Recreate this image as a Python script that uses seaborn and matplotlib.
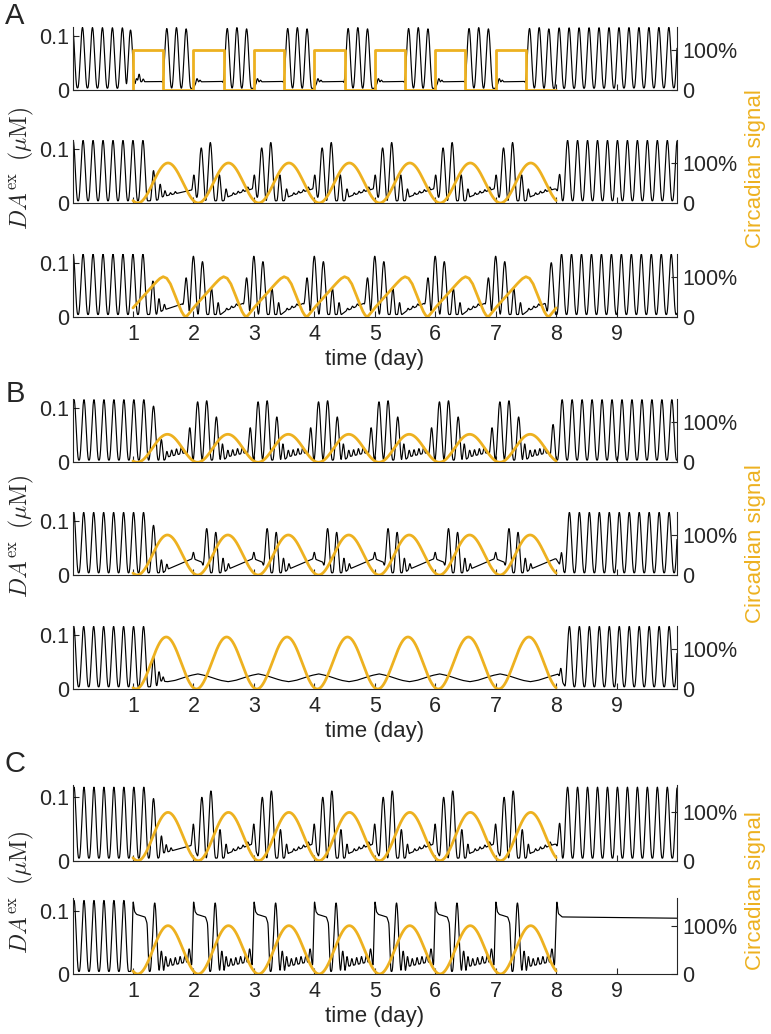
import numpy as np
import matplotlib
matplotlib.use("Agg")
import matplotlib.pyplot as plt
import seaborn as sns

# ==========================
# Data
# ==========================
# panel order: A1 A2 A3 B1 B2 B3 C1 C2
free_period = 0.165          # free-running spike period (day)
free_height = 0.112          # free-running spike height (uM)
pre_start = [0.0, 0.01, 0.01, 0.025, 0.02, 0.02, 0.025, 0.025]
pre_count = [6, 8, 8, 8, 8, 8, 8, 6]
post_start = [8.05, 8.19, 8.09, 8.10, 8.22, 8.22, 8.19, np.nan]
entrained_from = [1, 2, 2, 2, 2, 2, 2, 1]

# daily burst peaks (offset within day, height) and daily baseline knots
a1_pk_off = [0.06, 0.11, 0.56, 0.72, 0.88]
a1_pk_h = [0.006, 0.003, 0.11, 0.112, 0.11]
a1_bs_off = [0.0, 0.05, 0.48, 0.51, 0.99]
a1_bs_v = [0.003, 0.015, 0.016, 0.004, 0.003]
a1_ex_t = [0.96, 1.1, 1.17]
a1_ex_h = [0.108, 0.012, 0.005]
a1_xb_t = []
a1_xb_v = []

a2_pk_off = [0.01, 0.13, 0.28, 0.43, 0.54, 0.66, 0.74, 0.82, 0.9]
a2_pk_h = [0.03, 0.098, 0.108, 0.048, 0.018, 0.004, 0.004, 0.004, 0.006]
a2_bs_off = [0.0, 0.08, 0.5, 0.58, 0.97]
a2_bs_v = [0.024, 0.004, 0.004, 0.012, 0.026]
a2_ex_t = [1.34, 1.45, 1.53, 1.62, 1.7, 8.06]
a2_ex_h = [0.056, 0.026, 0.01, 0.004, 0.004, 0.04]
a2_xb_t = [1.38, 1.5, 1.97, 8.0, 8.1]
a2_xb_v = [0.004, 0.012, 0.024, 0.026, 0.004]

a3_pk_off = [-0.12, 0.0, 0.15, 0.3, 0.41, 0.55, 0.63, 0.71]
a3_pk_h = [0.068, 0.108, 0.098, 0.048, 0.022, 0.004, 0.004, 0.004]
a3_bs_off = [0.0, 0.45, 0.52, 0.82, 0.86]
a3_bs_v = [0.004, 0.004, 0.01, 0.025, 0.004]
a3_ex_t = [1.33, 1.43, 1.52, 7.92]
a3_ex_h = [0.062, 0.026, 0.01, 0.096]
a3_xb_t = [1.38, 1.5, 1.82, 1.86]
a3_xb_v = [0.004, 0.012, 0.024, 0.004]

b1_pk_off = [-0.06, 0.07, 0.22, 0.38, 0.48, 0.57, 0.65, 0.73, 0.81]
b1_pk_h = [0.06, 0.108, 0.11, 0.08, 0.03, 0.012, 0.011, 0.011, 0.012]
b1_bs_off = [0.0, 0.5, 0.56, 0.88, 0.91]
b1_bs_v = [0.004, 0.004, 0.01, 0.018, 0.004]
b1_ex_t = [1.34, 1.47, 1.56, 1.64, 1.72, 1.8, 7.95]
b1_ex_h = [0.1, 0.038, 0.012, 0.011, 0.011, 0.012, 0.066]
b1_xb_t = [1.52, 1.58, 1.88, 1.91]
b1_xb_v = [0.004, 0.01, 0.018, 0.004]

b2_pk_off = [0.0, 0.22, 0.37, 0.49, 0.58]
b2_pk_h = [0.012, 0.082, 0.075, 0.027, 0.01]
b2_bs_off = [0.0, 0.14, 0.19, 0.5, 0.56, 0.98]
b2_bs_v = [0.03, 0.024, 0.004, 0.004, 0.01, 0.03]
b2_ex_t = [1.34, 1.47, 1.56, 8.09]
b2_ex_h = [0.088, 0.024, 0.01, 0.028]
b2_xb_t = [1.5, 1.56, 1.98, 8.0, 8.14]
b2_xb_v = [0.004, 0.01, 0.03, 0.03, 0.004]

b3_pk_off = []
b3_pk_h = []
b3_bs_off = [0.07, 0.2, 0.32, 0.45, 0.57, 0.7, 0.82, 0.95]
b3_bs_v = [0.028, 0.025, 0.0205, 0.016, 0.0135, 0.016, 0.0205, 0.025]
b3_ex_t = [1.34, 1.43, 1.5, 8.08]
b3_ex_h = [0.056, 0.02, 0.008, 0.02]
b3_xb_t = [1.38, 1.45, 1.57, 1.7, 1.82, 1.95, 8.03, 8.15]
b3_xb_v = [0.004, 0.015, 0.0135, 0.016, 0.0205, 0.025, 0.028, 0.004]

c1_pk_off = [0.0, 0.14, 0.29, 0.44, 0.54, 0.66, 0.74, 0.82, 0.9]
c1_pk_h = [0.034, 0.096, 0.106, 0.045, 0.018, 0.004, 0.004, 0.004, 0.006]
c1_bs_off = [0.0, 0.08, 0.5, 0.58, 0.97]
c1_bs_v = [0.024, 0.004, 0.004, 0.012, 0.026]
c1_ex_t = [1.34, 1.47, 1.55, 1.63, 8.06]
c1_ex_h = [0.094, 0.03, 0.012, 0.005, 0.046]
c1_xb_t = [1.42, 1.5, 1.97, 8.0, 8.1]
c1_xb_v = [0.004, 0.012, 0.024, 0.026, 0.004]

c2_pk_off = [0.0, 0.36, 0.47, 0.54, 0.62, 0.7, 0.78, 0.86, 0.93]
c2_pk_h = [0.012, 0.108, 0.032, 0.018, 0.011, 0.011, 0.011, 0.011, 0.02]
c2_bs_off = [0.0, 0.03, 0.06, 0.2, 0.235, 0.265, 0.5, 0.56, 0.95, 0.975]
c2_bs_v = [0.104, 0.098, 0.094, 0.09, 0.08, 0.004, 0.004, 0.012, 0.02, 0.012]
c2_ex_t = [8.01]
c2_ex_h = [0.012]
c2_xb_t = [0.97, 8.01, 8.04, 8.1, 10.0]
c2_xb_v = [0.004, 0.104, 0.095, 0.09, 0.088]

# circadian signal
circ_shape = ["square", "sine", "saw", "sine", "sine", "sine", "sine", "sine"]
circ_amp = [1.0, 1.0, 1.0, 0.7, 1.0, 1.3, 1.0, 1.0]
circ_trough = [0.08, 0.08, 0.87, 0.07, 0.07, 0.05, 0.08, 0.08]
sq_on = [1, 2, 3, 4, 5, 6, 7]
sq_off = [1.5, 2.5, 3.5, 4.5, 5.5, 6.5, 7.5]
saw_phase = [0.0, 0.1, 0.2, 0.3, 0.38, 0.44, 0.5, 0.56, 0.62, 0.68, 0.74, 0.8, 0.84, 0.87, 0.9, 0.95, 1.0]
saw_level = [0.22, 0.39, 0.56, 0.73, 0.86, 0.95, 1.0, 0.96, 0.82, 0.6, 0.36, 0.14, 0.04, 0.0, 0.03, 0.12, 0.22]

time_ticks = [1, 2, 3, 4, 5, 6, 7, 8, 9]

panel_data = [
    (a1_pk_off, a1_pk_h, a1_bs_off, a1_bs_v, a1_ex_t, a1_ex_h, a1_xb_t, a1_xb_v),
    (a2_pk_off, a2_pk_h, a2_bs_off, a2_bs_v, a2_ex_t, a2_ex_h, a2_xb_t, a2_xb_v),
    (a3_pk_off, a3_pk_h, a3_bs_off, a3_bs_v, a3_ex_t, a3_ex_h, a3_xb_t, a3_xb_v),
    (b1_pk_off, b1_pk_h, b1_bs_off, b1_bs_v, b1_ex_t, b1_ex_h, b1_xb_t, b1_xb_v),
    (b2_pk_off, b2_pk_h, b2_bs_off, b2_bs_v, b2_ex_t, b2_ex_h, b2_xb_t, b2_xb_v),
    (b3_pk_off, b3_pk_h, b3_bs_off, b3_bs_v, b3_ex_t, b3_ex_h, b3_xb_t, b3_xb_v),
    (c1_pk_off, c1_pk_h, c1_bs_off, c1_bs_v, c1_ex_t, c1_ex_h, c1_xb_t, c1_xb_v),
    (c2_pk_off, c2_pk_h, c2_bs_off, c2_bs_v, c2_ex_t, c2_ex_h, c2_xb_t, c2_xb_v),
]

# ==========================
# Build traces
# ==========================
t = np.linspace(0, 10, 20001)


def spikes(times, heights):
    # each spike is a raised-cosine bump; big spikes fill one period
    y = np.zeros_like(t)
    for tp, h in zip(times, heights):
        w = 0.025 + 0.055 * min(h / 0.1, 1.0)
        m = np.abs(t - tp) < w
        u = (t[m] - tp) / w
        y[m] += h * (0.5 * (1 + np.cos(np.pi * u))) ** 1.15
    return y


def black_trace(i):
    pk_off, pk_h, bs_off, bs_v, ex_t, ex_h, xb_t, xb_v = panel_data[i]
    kt = [0.0]
    kv = [0.004]
    for d in range(entrained_from[i], 8):
        kt += [d + o for o in bs_off]
        kv += list(bs_v)
    kt += list(xb_t)
    kv += list(xb_v)
    if max(kt) < 10:
        kt.append(10.0)
        kv.append(0.004)
    order = np.argsort(kt, kind="stable")
    base = np.interp(t, np.array(kt)[order], np.array(kv)[order])
    k = np.exp(-0.5 * (np.arange(-30, 31) / 8.0) ** 2)
    k /= k.sum()
    base = np.convolve(np.pad(base, 30, mode="edge"), k, mode="valid")

    times = list(pre_start[i] + free_period * np.arange(pre_count[i]))
    heights = [free_height] * pre_count[i]
    for d in range(entrained_from[i], 8):
        times += [d + o for o in pk_off]
        heights += list(pk_h)
    times += list(ex_t)
    heights += list(ex_h)
    if not np.isnan(post_start[i]):
        n = int(np.floor((10.1 - post_start[i]) / free_period)) + 1
        times += list(post_start[i] + free_period * np.arange(n))
        heights += [free_height] * n
    return base + spikes(times, heights)


def circadian(i):
    if circ_shape[i] == "square":
        xs, ys = [1.0], [0.0]
        for on, off in zip(sq_on, sq_off):
            xs += [on, on, off, off]
            ys += [0.0, 1.0, 1.0, 0.0]
        xs.append(8.0)
        ys.append(0.0)
        return np.array(xs), np.array(ys) * circ_amp[i]
    tc = np.linspace(1, 8, 1401)
    if circ_shape[i] == "saw":
        return tc, circ_amp[i] * np.interp(tc - np.floor(tc), saw_phase, saw_level)
    return tc, circ_amp[i] * (1 - np.cos(2 * np.pi * (tc - circ_trough[i]))) / 2


# ==========================
# Figure
# ==========================
sns.set_theme(style="ticks")
plt.rcParams["font.family"] = ["Liberation Sans", "DejaVu Sans"]
plt.rcParams["mathtext.fontset"] = "cm"

W, H = 771, 1034
fig = plt.figure(figsize=(W / 100, H / 100), dpi=100)
x0, x1 = 72.5, 677
boxes = [(27, 90), (140, 203), (253.7, 316.7), (399.3, 462.3),
         (512, 575), (626, 689), (785, 860.7), (898.3, 974)]
left_top = [0.1167] * 6 + [0.1194] * 2
right_top = [1.575] * 6 + [1.567] * 2
bottom_panels = [2, 5, 7]
yellow = "#EDB120"
edge = "#262626"

for i, (top, bot) in enumerate(boxes):
    ax = fig.add_axes([x0 / W, 1 - bot / H, (x1 - x0) / W, (bot - top) / H])
    sns.lineplot(x=t, y=black_trace(i), ax=ax, color="black", linewidth=0.85,
                 estimator=None, sort=False)
    ax.set_xlim(0, 10)
    ax.set_ylim(0, left_top[i])
    ax.set_yticks([0, 0.1])
    ax.set_yticklabels(["0", "0.1"])
    ax.set_xticks(time_ticks)
    if i in bottom_panels:
        ax.set_xticklabels([str(v) for v in time_ticks])
        ax.set_xlabel("time (day)", fontsize=16, labelpad=3)
    else:
        ax.set_xticklabels([])
    ax.set_ylabel("")
    ax.tick_params(axis="y", direction="in", length=4, width=0.8, labelsize=15.5, pad=2.5, color=edge)
    ax.tick_params(axis="x", direction="in", length=4, width=0.8, labelsize=15.5, pad=5, color=edge)
    for s in ["top", "right"]:
        ax.spines[s].set_visible(False)
    for s in ["left", "bottom"]:
        ax.spines[s].set_linewidth(0.8)
        ax.spines[s].set_color(edge)

    ax2 = ax.twinx()
    cx, cy = circadian(i)
    sns.lineplot(x=cx, y=cy, ax=ax2, color=yellow, linewidth=2.0,
                 estimator=None, sort=False)
    ax2.set_xlim(0, 10)
    ax2.set_ylim(0, right_top[i])
    ax2.set_yticks([0, 1])
    ax2.set_yticklabels(["0", "100%"])
    ax2.set_ylabel("")
    ax2.tick_params(axis="y", direction="in", length=4, width=0.8, labelsize=15.5, pad=4, color=edge)
    for s in ["top", "left", "bottom"]:
        ax2.spines[s].set_visible(False)
    ax2.spines["right"].set_linewidth(0.8)
    ax2.spines["right"].set_color(edge)

# group labels
for letter, yc in zip(["A", "B", "C"], [16, 394, 764]):
    fig.text(15 / W, 1 - yc / H, letter, fontsize=21, ha="center", va="center")

for yc in [168, 536, 892]:
    fig.text(21 / W, 1 - yc / H, r"$DA^{\rm ex}\;\;(\mu{\rm M})$", fontsize=17,
             rotation=90, ha="center", va="center")

for yc in [169, 544, 891]:
    fig.text(755 / W, 1 - yc / H, "Circadian signal", fontsize=16, color=yellow,
             rotation=90, ha="center", va="center")

plt.savefig("out.png", dpi=100)
